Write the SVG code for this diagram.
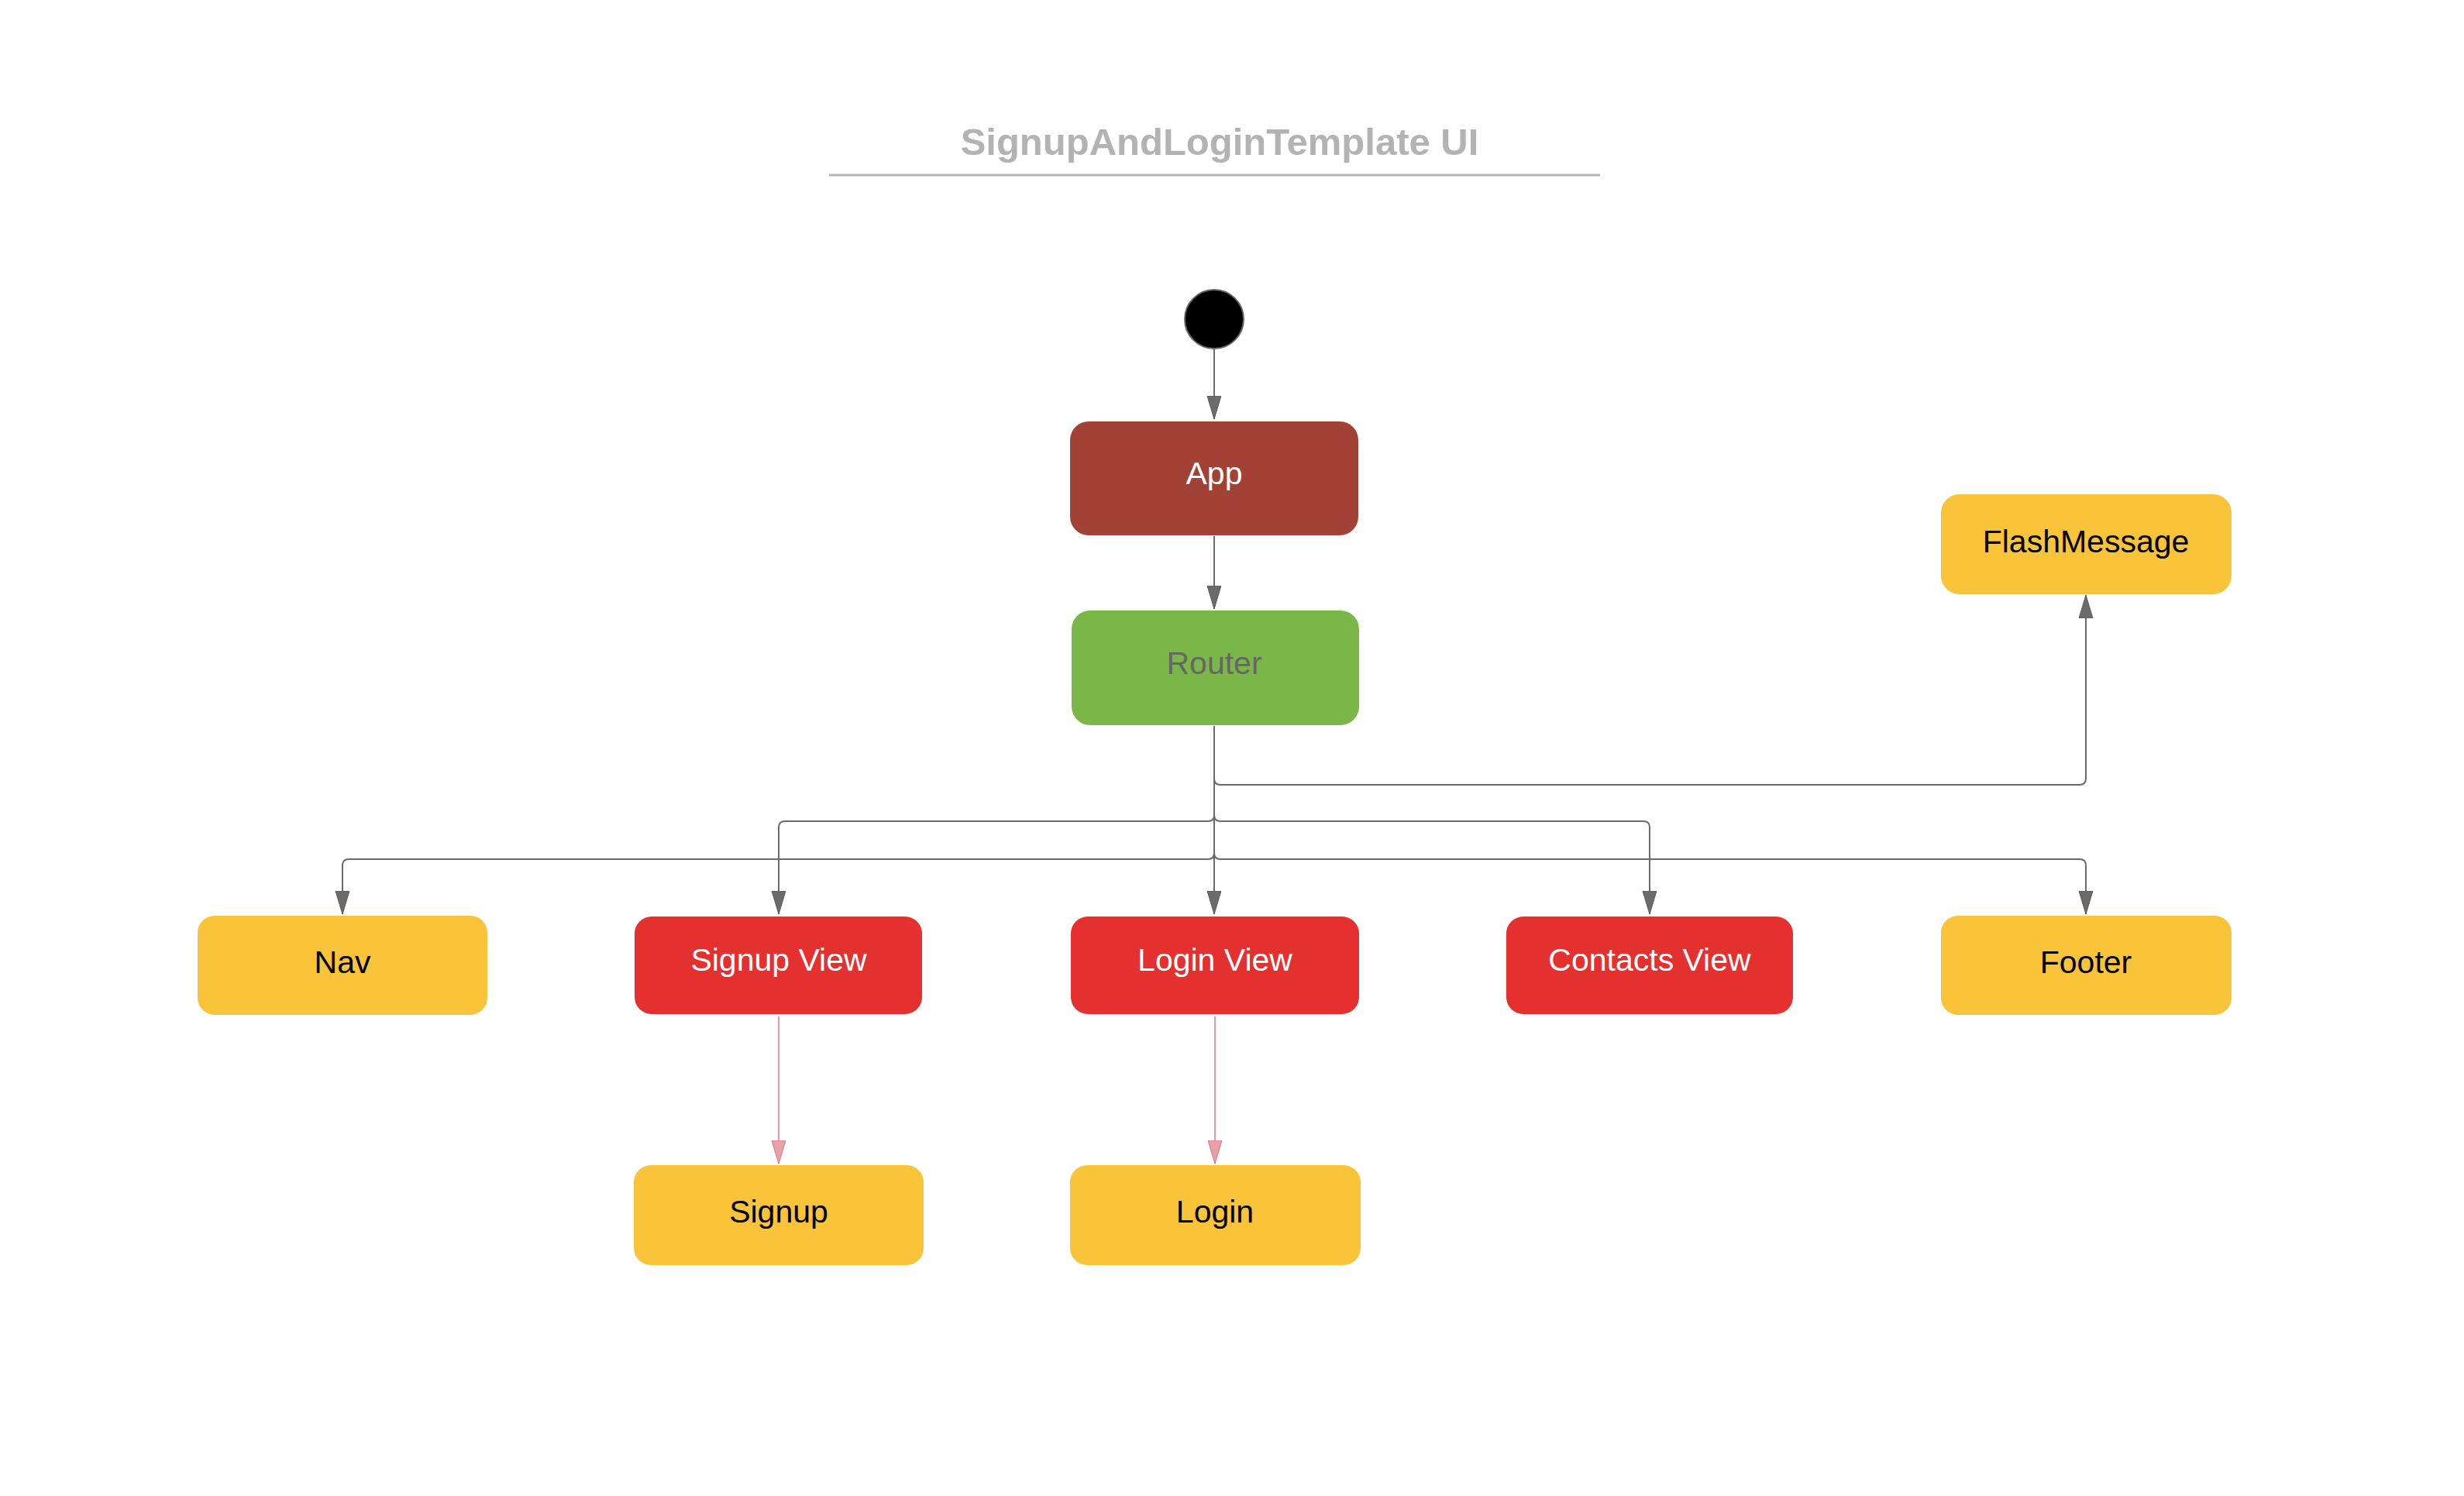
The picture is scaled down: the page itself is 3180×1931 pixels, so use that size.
<svg xmlns="http://www.w3.org/2000/svg" width="3180" height="1931" viewBox="0 0 3180 1931">
<style>
text{font-family:"Liberation Sans",Arial,sans-serif;font-size:41px;text-anchor:middle}
.title{font-size:49px;font-weight:bold;fill:#b3b3b3}
.yel{fill:#f9c33a}
.red{fill:#e53030}
.dark{fill:#a24136}
.grn{fill:#7bb649}
.wt{fill:#ffffff}
.bk{fill:#000000}
.gt{fill:#666666}
.conn{fill:none;stroke:#6b6b6b;stroke-width:2}
.pink{fill:none;stroke:#e89aa4;stroke-width:2}
</style>
<defs>
<marker id="ah" markerUnits="userSpaceOnUse" markerWidth="32" markerHeight="20" refX="30" refY="9" orient="auto" viewBox="0 0 32 20">
<path d="M0,0 L30,9 L0,18 z" fill="#6b6b6b" stroke="#5a5a5a" stroke-width="1"/>
</marker>
<marker id="ahp" markerUnits="userSpaceOnUse" markerWidth="32" markerHeight="20" refX="30" refY="9" orient="auto" viewBox="0 0 32 20">
<path d="M0,0 L30,9 L0,18 z" fill="#eba0a8" stroke="#d47482" stroke-width="1"/>
</marker>
</defs>
<rect width="3180" height="1931" fill="#ffffff"/>
<g id="title">
<text class="title" x="1574" y="200">SignupAndLoginTemplate UI</text>
<line x1="1070" y1="226" x2="2065" y2="226" stroke="#b3b3b3" stroke-width="3"/>
</g>
<g id="connectors">
<path class="conn" d="M1567,451 V541" marker-end="url(#ah)"/>
<path class="conn" d="M1567,692 V786" marker-end="url(#ah)"/>
<path class="conn" d="M1567,937 V1005 Q1567,1013 1575,1013 H2684 Q2692,1013 2692,1005 V768" marker-end="url(#ah)"/>
<path class="conn" d="M1567,937 V1052 Q1567,1060 1559,1060 H1013 Q1005,1060 1005,1068 V1180" marker-end="url(#ah)"/>
<path class="conn" d="M1567,937 V1052 Q1567,1060 1575,1060 H2121 Q2129,1060 2129,1068 V1180" marker-end="url(#ah)"/>
<path class="conn" d="M1567,937 V1101 Q1567,1109 1559,1109 H450 Q442,1109 442,1117 V1180" marker-end="url(#ah)"/>
<path class="conn" d="M1567,937 V1101 Q1567,1109 1575,1109 H2684 Q2692,1109 2692,1117 V1180" marker-end="url(#ah)"/>
<path class="conn" d="M1567,937 V1180" marker-end="url(#ah)"/>
<path class="pink" d="M1005,1312 V1502" marker-end="url(#ahp)"/>
<path class="pink" d="M1568,1312 V1502" marker-end="url(#ahp)"/>
</g>
<g id="start">
<circle cx="1567" cy="412" r="38" fill="#000000" stroke="#666666" stroke-width="2"/>
</g>
<g id="app">
<rect class="dark" x="1381" y="544" width="372" height="147" rx="24"/>
<text class="wt" x="1567" y="625">App</text>
</g>
<g id="router">
<rect class="grn" x="1383" y="788" width="371" height="148" rx="24"/>
<text class="gt" x="1567" y="870">Router</text>
</g>
<g id="flashmessage">
<rect class="yel" x="2505" y="638" width="375" height="129" rx="24"/>
<text class="bk" x="2692" y="713">FlashMessage</text>
</g>
<g id="nav">
<rect class="yel" x="255" y="1182" width="374" height="128" rx="22"/>
<text class="bk" x="442" y="1256">Nav</text>
</g>
<g id="signupview">
<rect class="red" x="819" y="1183" width="371" height="126" rx="22"/>
<text class="wt" x="1005" y="1253">Signup View</text>
</g>
<g id="loginview">
<rect class="red" x="1382" y="1183" width="372" height="126" rx="22"/>
<text class="wt" x="1568" y="1253">Login View</text>
</g>
<g id="contactsview">
<rect class="red" x="1944" y="1183" width="370" height="126" rx="22"/>
<text class="wt" x="2129" y="1253">Contacts View</text>
</g>
<g id="footer">
<rect class="yel" x="2505" y="1182" width="375" height="128" rx="22"/>
<text class="bk" x="2692" y="1256">Footer</text>
</g>
<g id="signup">
<rect class="yel" x="818" y="1504" width="374" height="129" rx="22"/>
<text class="bk" x="1005" y="1578">Signup</text>
</g>
<g id="login">
<rect class="yel" x="1381" y="1504" width="375" height="129" rx="22"/>
<text class="bk" x="1568" y="1578">Login</text>
</g>
</svg>
